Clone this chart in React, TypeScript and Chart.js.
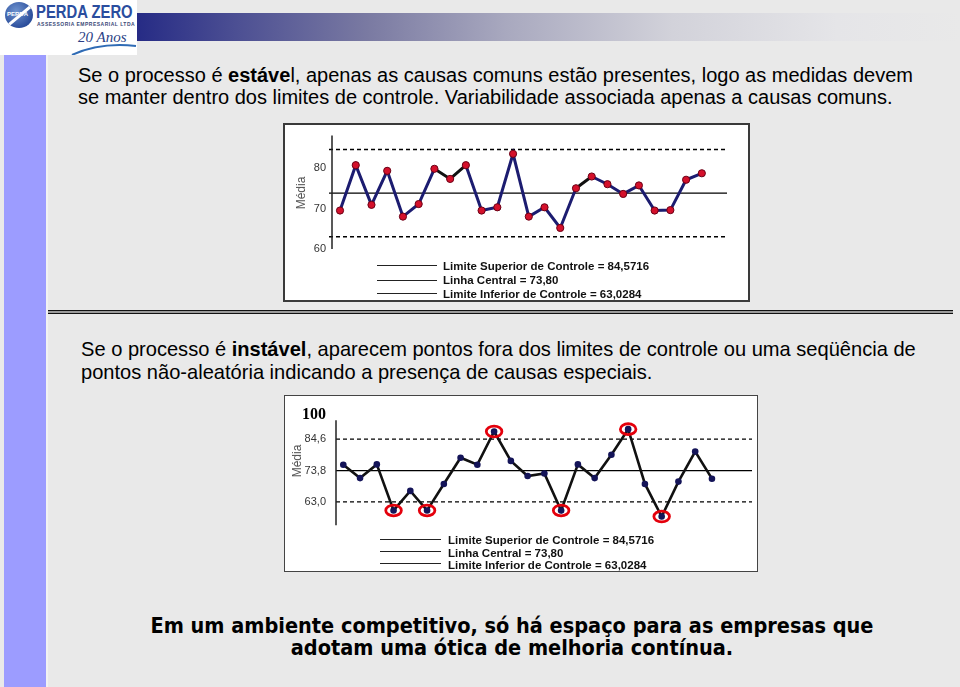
import React, { useEffect, useRef } from "react";
import { Chart, registerables } from "chart.js";
Chart.register(...registerables);

// ---- data ----
const UCL = 84.5716;
const CL = 73.8;
const LCL = 63.0284;

const stableValues = [69.5, 80.7, 70.9, 79.3, 68.0, 71.1, 79.8, 77.3, 80.7, 69.5, 70.3, 83.5, 68.0, 70.3, 65.2, 75.0, 77.9, 76.0, 73.6, 75.7, 69.5, 69.6, 77.1, 78.7];
const unstableValues = [75.8, 71.2, 75.9, 60.1, 66.8, 60.1, 69.2, 78.2, 75.8, 87.2, 77.1, 71.9, 72.8, 60.1, 75.9, 71.2, 79.2, 88.0, 69.2, 58.0, 70.0, 80.3, 71.0];

const stableTicks = [60, 70, 80];
const unstableTickLabels = ["63,0", "73,8", "84,6", "100"];
const legendLabels = [
  "Limite Superior de Controle = 84,5716",
  "Linha Central = 73,80",
  "Limite Inferior de Controle = 63,0284",
];
const axisTitle = "Média";

const SANS = '"Liberation Sans", Arial, sans-serif';
const blackSegments = [6, 7, 15];

function limitLine(value: number, x0: number, x1: number, dashed: boolean) {
  return {
    type: "line" as const,
    data: [{ x: x0, y: value }, { x: x1, y: value }],
    borderColor: "#000",
    borderWidth: 1.3,
    borderDash: dashed ? [4, 3] : [],
    pointRadius: 0,
    clip: false as any,
    order: 2,
  };
}

function axisLinePlugin(topValue: number) {
  return {
    id: "axisLine",
    afterDraw(chart: any) {
      const { ctx, chartArea, scales } = chart;
      const y = scales.y;
      ctx.save();
      ctx.strokeStyle = "#222";
      ctx.lineWidth = 1.5;
      ctx.beginPath();
      ctx.moveTo(chartArea.left, y.getPixelForValue(topValue));
      ctx.lineTo(chartArea.left, y.getPixelForValue(y.min));
      ctx.stroke();
      ctx.restore();
    },
  };
}

const outOfControlPlugin = {
  id: "outOfControl",
  afterDatasetsDraw(chart: any) {
    const meta = chart.getDatasetMeta(3);
    const { ctx } = chart;
    ctx.save();
    ctx.strokeStyle = "#e4000c";
    ctx.lineWidth = 2.8;
    unstableValues.forEach((v, i) => {
      if (v > UCL || v < LCL) {
        const p = meta.data[i];
        ctx.beginPath();
        ctx.ellipse(p.x, p.y, 7.8, 5.4, 0, 0, Math.PI * 2);
        ctx.stroke();
      }
    });
    ctx.restore();
  },
};

function makeStable(canvas: HTMLCanvasElement) {
  const xMin = 0.49, xMax = 25.6;
  return new Chart(canvas, {
    type: "line",
    data: {
      datasets: [
        limitLine(UCL, 0.3, xMax, true),
        limitLine(CL, 0.3, xMax, false),
        limitLine(LCL, 0.3, xMax, true),
        {
          type: "line",
          data: stableValues.map((v, i) => ({ x: i + 1, y: v })),
          borderColor: "#1c1c70",
          borderWidth: 3,
          segment: {
            borderColor: (c: any) => (blackSegments.includes(c.p0DataIndex) ? "#111" : undefined),
          },
          pointBackgroundColor: "#d4102b",
          pointBorderColor: "#6a0015",
          pointBorderWidth: 1,
          pointRadius: 3.6,
          tension: 0,
          order: 1,
        } as any,
      ],
    },
    options: {
      animation: false,
      responsive: true,
      maintainAspectRatio: false,
      layout: { padding: { left: 0, right: 23, top: 12, bottom: 53 } },
      plugins: { legend: { display: false }, tooltip: { enabled: false } },
      scales: {
        x: { type: "linear", min: xMin, max: xMax, display: false },
        y: {
          min: 60,
          max: 88,
          afterFit: (s: any) => { s.width = 49; },
          afterBuildTicks: (s: any) => { s.ticks = stableTicks.map((v) => ({ value: v })); },
          ticks: { padding: 6, color: "#333", font: { family: SANS, size: 11 } },
          grid: { display: false, drawTicks: false },
          border: { display: false },
        },
      },
    },
    plugins: [axisLinePlugin(88)],
  } as any);
}

function makeUnstable(canvas: HTMLCanvasElement) {
  const xMin = 0.565, xMax = 25.39;
  const yMax = 93;
  return new Chart(canvas, {
    type: "line",
    data: {
      datasets: [
        limitLine(UCL, xMin, xMax, true),
        limitLine(CL, xMin, xMax, false),
        limitLine(LCL, xMin, xMax, true),
        {
          type: "line",
          data: unstableValues.map((v, i) => ({ x: i + 1, y: v })),
          borderColor: "#111",
          borderWidth: 2.6,
          pointBackgroundColor: "#141458",
          pointBorderColor: "#141458",
          pointBorderWidth: 0,
          pointRadius: 3.3,
          tension: 0,
          order: 1,
        } as any,
      ],
    },
    options: {
      animation: false,
      responsive: true,
      maintainAspectRatio: false,
      layout: { padding: { left: 0, right: 6, top: 10.9, bottom: 46.7 } },
      plugins: { legend: { display: false }, tooltip: { enabled: false } },
      scales: {
        x: { type: "linear", min: xMin, max: xMax, display: false },
        y: {
          min: 55,
          max: yMax,
          afterFit: (s: any) => { s.width = 52; },
          afterBuildTicks: (s: any) => {
            s.ticks = [LCL, CL, UCL, yMax].map((v) => ({ value: v }));
          },
          ticks: {
            padding: 10,
            callback: (_v: any, i: number) => unstableTickLabels[i],
            color: (c: any) => (c.index === 3 ? "#000" : "#333"),
            font: (c: any) =>
              c.index === 3
                ? { family: '"Liberation Serif", "Times New Roman", serif', size: 16, weight: "bold" }
                : { family: SANS, size: 11 },
          },
          grid: { display: false, drawTicks: false },
          border: { display: false },
        },
      },
    },
    plugins: [axisLinePlugin(91.1), outOfControlPlugin],
  } as any);
}

function Legend({ lineX0, lineX1, textX, lineYs, textYs }: { lineX0: number; lineX1: number; textX: number; lineYs: number[]; textYs: number[] }) {
  return (
    <>
      {legendLabels.map((t, i) => (
        <React.Fragment key={t}>
          <div style={{ position: "absolute", left: lineX0, top: lineYs[i] - 0.5, width: lineX1 - lineX0, height: 1, background: "#222" }} />
          <div style={{ position: "absolute", left: textX, top: textYs[i] - 7, height: 14, lineHeight: "14px", fontFamily: SANS, fontWeight: "bold", fontSize: 11.5, color: "#111", whiteSpace: "nowrap" }}>{t}</div>
        </React.Fragment>
      ))}
    </>
  );
}

function RotTitle({ cx, cy }: { cx: number; cy: number }) {
  return (
    <div style={{ position: "absolute", left: cx - 30, top: cy - 8, width: 60, height: 16, lineHeight: "16px", textAlign: "center", transform: "rotate(-90deg)", fontFamily: SANS, fontSize: 12, color: "#555" }}>{axisTitle}</div>
  );
}

export default function App() {
  const c1 = useRef<HTMLCanvasElement>(null);
  const c2 = useRef<HTMLCanvasElement>(null);
  useEffect(() => {
    const a = makeStable(c1.current!);
    const b = makeUnstable(c2.current!);
    return () => { a.destroy(); b.destroy(); };
  }, []);

  return (
    <div style={{ position: "absolute", left: 0, top: 0, width: 960, height: 687, background: "#e9e9e9", overflow: "hidden", fontFamily: SANS }}>
      {/* header gradient bar */}
      <div style={{ position: "absolute", left: 137, top: 13, width: 823, height: 28, background: "linear-gradient(to right, #262b85 0%, #4c4f93 12%, #7a7aa2 28%, #a9a9bf 45%, #d2d2da 65%, #e5e5e8 85%, #e9e9e9 100%)" }} />
      {/* logo */}
      <div style={{ position: "absolute", left: 0, top: 0, width: 137, height: 55, background: "#fff" }}>
        <div style={{ position: "absolute", left: 5, top: 2, width: 28, height: 26, borderRadius: "50%", background: "radial-gradient(circle at 40% 35%, #6f93cf, #2c4f9c 70%)", overflow: "hidden" }}>
          <div style={{ position: "absolute", left: -4, top: 11, width: 40, height: 3, background: "#fff", transform: "rotate(-40deg)" }} />
          <div style={{ position: "absolute", left: 2, top: 9, fontSize: 6, fontWeight: "bold", color: "#fff", fontFamily: SANS }}>PERDA</div>
        </div>
        <div style={{ position: "absolute", left: 36, top: 2, fontSize: 19, lineHeight: "20px", fontWeight: "bold", color: "#2a4d9e", fontFamily: SANS, whiteSpace: "nowrap", transform: "scaleX(0.78)", transformOrigin: "left top" }}>PERDA ZERO</div>
        <div style={{ position: "absolute", left: 37, top: 21, fontSize: 5, lineHeight: "6px", fontWeight: "bold", color: "#3a4a78", fontFamily: SANS, letterSpacing: 0.5, whiteSpace: "nowrap" }}>ASSESSORIA EMPRESARIAL LTDA</div>
        <div style={{ position: "absolute", left: 78, top: 28, fontSize: 15, lineHeight: "18px", fontStyle: "italic", color: "#2b3f86", fontFamily: '"Liberation Serif", serif', whiteSpace: "nowrap" }}>20 Anos</div>
        <svg style={{ position: "absolute", left: 0, top: 0 }} width={137} height={55}>
          <path d="M72 55 Q100 42 136 46" stroke="#2f6bb5" strokeWidth={2} fill="none" />
        </svg>
      </div>
      {/* left bar */}
      <div style={{ position: "absolute", left: 4, top: 55, width: 42, height: 632, background: "#9c9cff" }} />
      <div style={{ position: "absolute", left: 46, top: 55, width: 2, height: 632, background: "#f2f2f2" }} />

      {/* paragraph 1 */}
      <div style={{ position: "absolute", left: 78, top: 64, fontSize: 20, lineHeight: "22px", color: "#000", whiteSpace: "nowrap" }}>
        Se o processo é <b>estáve</b>l, apenas as causas comuns estão presentes, logo as medidas devem<br />
        se manter dentro dos limites de controle. Variabilidade associada apenas a causas comuns.
      </div>

      {/* chart 1 */}
      <div style={{ position: "absolute", left: 283, top: 123, width: 467, height: 179, background: "#fff", border: "2px solid #3a3a3a", boxSizing: "border-box" }} />
      <div style={{ position: "absolute", left: 283, top: 123, width: 467, height: 179 }}>
        <canvas ref={c1} />
      </div>
      <RotTitle cx={301} cy={193} />
      <Legend lineX0={377} lineX1={437} textX={443} lineYs={[265.5, 280, 293.5]} textYs={[266, 280.3, 293.7]} />

      {/* separator */}
      <div style={{ position: "absolute", left: 48, top: 310, width: 905, height: 1, background: "#111" }} />
      <div style={{ position: "absolute", left: 48, top: 311, width: 905, height: 2, background: "#9a9a9a" }} />
      <div style={{ position: "absolute", left: 48, top: 313, width: 905, height: 1, background: "#111" }} />

      {/* paragraph 2 */}
      <div style={{ position: "absolute", left: 81, top: 337, fontSize: 21, lineHeight: "23px", color: "#000", whiteSpace: "nowrap", transform: "scaleX(0.956)", transformOrigin: "left top" }}>
        Se o processo é <b>instável</b>, aparecem pontos fora dos limites de controle ou uma seqüência de<br />
        pontos não-aleatória indicando a presença de causas especiais.
      </div>

      {/* chart 2 */}
      <div style={{ position: "absolute", left: 284, top: 395, width: 474, height: 177, background: "#fff", border: "1.5px solid #444", boxSizing: "border-box" }} />
      <div style={{ position: "absolute", left: 284, top: 395, width: 474, height: 177 }}>
        <canvas ref={c2} />
      </div>
      <RotTitle cx={297} cy={461} />
      <Legend lineX0={380} lineX1={441} textX={448} lineYs={[539, 551.7, 563.3]} textYs={[539.7, 553, 565]} />

      {/* bottom text */}
      <div style={{ position: "absolute", left: 0, top: 615, width: 1024, textAlign: "center", fontFamily: '"DejaVu Sans Condensed", "DejaVu Sans", sans-serif', fontStretch: "condensed", fontWeight: "bold", fontSize: 21.5, lineHeight: "22px", color: "#000", whiteSpace: "nowrap" }}>
        Em um ambiente competitivo, só há espaço para as empresas que<br />
        adotam uma ótica de melhoria contínua.
      </div>
    </div>
  );
}
